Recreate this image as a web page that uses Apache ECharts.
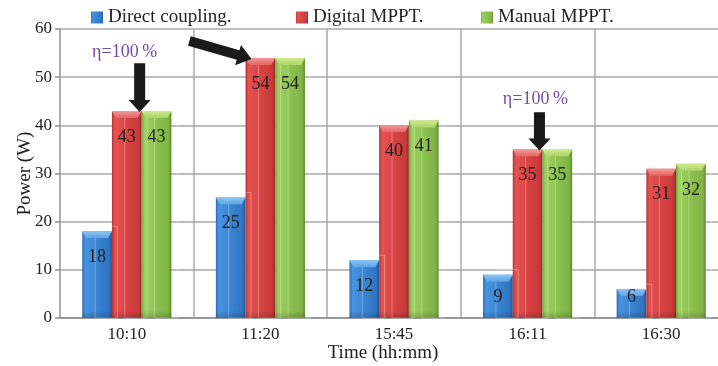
<!DOCTYPE html>
<html>
<head>
<meta charset="utf-8">
<script src="https://cdn.jsdelivr.net/npm/echarts@6/dist/echarts.min.js"></script>
<style>
  html, body { margin: 0; padding: 0; background: #fff; }
  #chart { width: 718px; height: 366px; }
</style>
</head>
<body>
<div id="chart"></div>
<script>
// Power delivered at each time of day, per tracking method
const times = ['10:10', '11:20', '15:45', '16:11', '16:30'];
const directCoupling = [18, 25, 12, 9, 6];
const digitalMPPT = [43, 54, 40, 35, 31];
const manualMPPT = [43, 54, 41, 35, 32];
const seriesNames = ['Direct coupling.', 'Digital MPPT.', 'Manual MPPT.'];
const yTicks = [0, 10, 20, 30, 40, 50, 60];

const FONT = '"Liberation Serif", "DejaVu Serif", serif';
const CAT_GAP = 0.333;

function barFill(edge, light, mid, dark, edge2) {
  return new echarts.graphic.LinearGradient(0, 0, 1, 0, [
    { offset: 0, color: edge },
    { offset: 0.1, color: light },
    { offset: 0.5, color: mid },
    { offset: 0.9, color: dark },
    { offset: 1, color: edge2 }
  ]);
}

const palettes = [
  barFill('#2d6db5', '#4894e0', '#3a84d2', '#2f74c0', '#1f558f'),
  barFill('#b33434', '#e65252', '#d84343', '#c83a3a', '#942626'),
  barFill('#74a838', '#9ed062', '#8cc250', '#80b446', '#5c8a28')
];
// top bevel faces: light, slightly darker
const capColors = [
  ['#8cc6f4', '#5aa2e4'],
  ['#f39a9a', '#e46464'],
  ['#d0ea8a', '#a8d46a']
];
const legendColors = ['#3a84d2', '#d84343', '#8cc250'];

// [category index, value, series index] for the bevel and label overlay
const overlayData = [];
[directCoupling, digitalMPPT, manualMPPT].forEach((vals, s) => {
  vals.forEach((v, c) => overlayData.push([c, v, s]));
});

function renderOverlay(params, api) {
  const c = api.value(0), v = api.value(1), s = api.value(2);
  const top = api.coord([c, v]);
  const base = api.coord([c, 0]);
  const bw = api.size([1, 0])[0] * (1 - CAT_GAP) / 3;
  const cx = top[0] + (s - 1) * bw;
  const l = cx - bw / 2, r = cx + bw / 2;
  const t = top[1], b = base[1];
  const cap = 7, inset = 4;
  // value label: near the top, or near the base for short bars
  const labelY = (b - t) < 48 ? b - 21 : t + 26;
  return {
    type: 'group',
    children: [
      {
        type: 'rect',
        shape: { x: cx - 2, y: t - 5, width: bw * 0.75, height: b - t + 5 },
        style: { fill: 'none', stroke: 'rgba(255,255,255,0.3)', lineWidth: 1 },
        z2: 0
      },
      {
        type: 'polygon',
        shape: { points: [[l, t], [r, t], [r - inset, t + cap], [l + inset, t + cap]] },
        style: {
          fill: new echarts.graphic.LinearGradient(0, 0, 0, 1, [
            { offset: 0, color: capColors[s][0] },
            { offset: 1, color: capColors[s][1] }
          ])
        },
        z2: 1
      },
      {
        type: 'rect',
        shape: { x: l, y: b - 7, width: bw, height: 7 },
        style: {
          fill: new echarts.graphic.LinearGradient(0, 0, 0, 1, [
            { offset: 0, color: 'rgba(0,0,0,0)' },
            { offset: 1, color: 'rgba(0,0,0,0.18)' }
          ])
        },
        z2: 1
      },
      {
        type: 'text',
        x: cx, y: labelY,
        style: {
          text: String(v),
          fill: '#222',
          font: '18px ' + FONT,
          textAlign: 'center',
          textVerticalAlign: 'middle'
        },
        z2: 5
      }
    ]
  };
}

const chart = echarts.init(document.getElementById('chart'), null, { renderer: 'canvas' });

const series = [directCoupling, digitalMPPT, manualMPPT].map((vals, i) => ({
  name: seriesNames[i],
  type: 'bar',
  barGap: '0%',
  barCategoryGap: (CAT_GAP * 100) + '%',
  data: vals,
  itemStyle: { color: palettes[i] },
  z: 3
}));

series.push({
  type: 'custom',
  renderItem: renderOverlay,
  data: overlayData,
  silent: true,
  z: 4,
  encode: { x: 0, y: 1 }
});

const legendLefts = [91, 296, 481];

chart.setOption({
  animation: false,
  color: legendColors,
  textStyle: { fontFamily: FONT },
  legend: seriesNames.map((n, i) => ({
    top: 8,
    left: legendLefts[i],
    padding: 0,
    itemWidth: 12,
    itemHeight: 12,
    itemGap: 0,
    icon: 'rect',
    selectedMode: false,
    textStyle: { fontFamily: FONT, fontSize: 19, color: '#222' },
    data: [n]
  })),
  grid: { left: 60, top: 29, width: 668, height: 289, containLabel: false, outerBoundsMode: 'none' },
  xAxis: {
    type: 'category',
    data: times,
    boundaryGap: true,
    axisLine: { show: true, lineStyle: { color: '#8c8c8c', width: 1.5 } },
    axisTick: { show: false },
    splitLine: { show: true, lineStyle: { color: '#a8a8a8', width: 1.5 } },
    axisLabel: { fontFamily: FONT, fontSize: 17, color: '#222', margin: 8 }
  },
  yAxis: {
    type: 'value',
    min: yTicks[0],
    max: yTicks[yTicks.length - 1],
    interval: 10,
    name: 'Power (W)',
    nameLocation: 'middle',
    nameGap: 25,
    nameMoveOverlap: false,
    nameTextStyle: { fontFamily: FONT, fontSize: 19, color: '#222' },
    axisLine: { show: true, lineStyle: { color: '#a8a8a8', width: 1.5 } },
    axisTick: { show: true, length: 5, lineStyle: { color: '#8c8c8c', width: 1.5 } },
    splitLine: { show: true, lineStyle: { color: '#a8a8a8', width: 1.5 } },
    axisLabel: { fontFamily: FONT, fontSize: 17, color: '#222', margin: 8 }
  },
  series: series
});

// Annotations placed through the chart's own coordinate conversion
function px(cat, val) {
  return chart.convertToPixel({ gridIndex: 0 }, [cat, val]);
}
const bw = (px(times[1], 0)[0] - px(times[0], 0)[0]) * (1 - CAT_GAP) / 3;

function downArrow(x, yTop, yTip) {
  const shaft = 5.5, head = 11, headLen = 12;
  return {
    type: 'polygon',
    shape: { points: [
      [x - shaft, yTop], [x + shaft, yTop], [x + shaft, yTip - headLen],
      [x + head, yTip - headLen], [x, yTip], [x - head, yTip - headLen], [x - shaft, yTip - headLen]
    ] },
    style: { fill: '#1a1a1a' },
    z: 10
  };
}

function slantArrow(p0, p1) {
  const dx = p1[0] - p0[0], dy = p1[1] - p0[1];
  const len = Math.hypot(dx, dy);
  const ux = dx / len, uy = dy / len, nx = -uy, ny = ux;
  const shaft = 5, head = 10.5, headLen = 14;
  const bx = p1[0] - ux * headLen, by = p1[1] - uy * headLen;
  return {
    type: 'polygon',
    shape: { points: [
      [p0[0] + nx * shaft, p0[1] + ny * shaft],
      [bx + nx * shaft, by + ny * shaft],
      [bx + nx * head, by + ny * head],
      p1,
      [bx - nx * head, by - ny * head],
      [bx - nx * shaft, by - ny * shaft],
      [p0[0] - nx * shaft, p0[1] - ny * shaft]
    ] },
    style: { fill: '#1a1a1a' },
    z: 10
  };
}

function etaLabel(x, y) {
  return {
    type: 'text',
    x: x, y: y,
    style: {
      text: 'η=100\u2009%',
      fill: '#6f4ea6',
      font: '18px ' + FONT,
      textAlign: 'center',
      textVerticalAlign: 'middle'
    },
    z: 10
  };
}

const c0 = px(times[0], 43), c0top = px(times[0], 52.9), c0txt = px(times[0], 55.1);
const c3 = px(times[3], 35), c3top = px(times[3], 42.7), c3txt = px(times[3], 45.4);
const c1 = px(times[1], 54);
const slantStart = px(times[0], 57.5);

chart.setOption({
  graphic: [
    etaLabel(c0[0] + 0.5 * bw - 17, c0txt[1]),
    downArrow(c0[0] + 0.5 * bw - 2, c0top[1], c0[1] + 1),
    etaLabel(c3[0] + 0.5 * bw - 7, c3txt[1]),
    downArrow(c3[0] + 0.5 * bw - 3, c3top[1], c3[1] + 1),
    slantArrow([c1[0] - 71, slantStart[1]], [c1[0] - 0.5 * bw + 6, c1[1] + 1]),
    {
      type: 'text',
      x: 383, y: 353,
      style: {
        text: 'Time (hh:mm)',
        fill: '#222',
        font: '19px ' + FONT,
        textAlign: 'center',
        textVerticalAlign: 'middle'
      }
    }
  ]
});
</script>
</body>
</html>
